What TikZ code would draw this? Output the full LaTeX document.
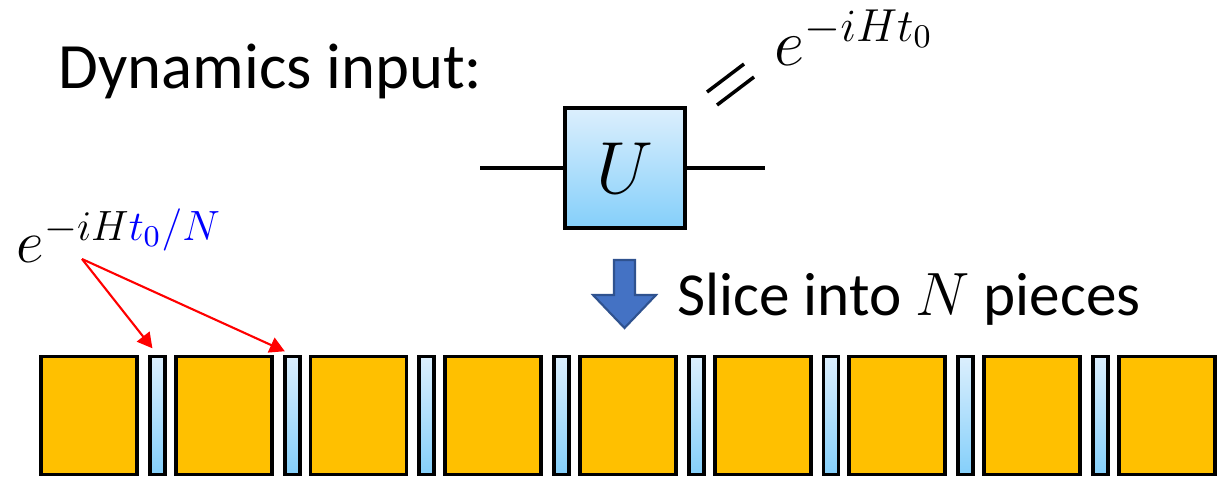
\RequirePackage{fix-cm}
\documentclass[tikz,border=0pt]{standalone}
\usepackage{fontspec}
\setmainfont{Carlito}
\usetikzlibrary{arrows.meta, positioning}
\definecolor{slGold}{HTML}{FFC000}
\definecolor{slBlueTop}{HTML}{DCEFFD}
\definecolor{slBlueBot}{HTML}{84CFFA}
\definecolor{slArrow}{HTML}{4472C4}
\definecolor{slArrowEdge}{HTML}{2F528F}

\begin{document}
\begin{tikzpicture}[
  big/.style={rectangle, draw=black, line width=1.1pt, fill=slGold, minimum width=0.96cm, minimum height=1.18cm, inner sep=0pt},
  slab/.style={rectangle, draw=black, line width=1.1pt, top color=slBlueTop, bottom color=slBlueBot, minimum width=0.15cm, minimum height=1.18cm, inner sep=0pt},
  gate/.style={rectangle, draw=black, line width=1.1pt, top color=slBlueTop, bottom color=slBlueBot, minimum size=1.2cm, inner sep=0pt, font=\fontsize{21}{21}\selectfont},
  txt/.style={inner sep=0pt, anchor=base west},
  wire/.style={line width=1pt},
  ptr/.style={-{Triangle[length=1.5mm, width=1.6mm]}, red, line width=0.6pt, shorten >=0.08cm},
  cutarrow/.style={fill=slArrow, draw=slArrowEdge, line width=0.6pt, line join=miter}]
  \useasboundingbox (0,0) rectangle (12.28,4.78);
  % title and gate
  \node[txt, font=\fontsize{18.4}{18.4}\selectfont] (dyn) at (0.58,3.90) {Dynamics input:};
  \node[gate] (U) at (6.25,3.10) {$U$};
  \coordinate (win) at (4.80,3.10);
  \coordinate (wout) at (7.65,3.10);
  \draw[wire] (win) -- (U);
  \draw[wire] (U) -- (wout);
  \draw[wire] (7.07,3.86) -- (7.44,4.14);
  \draw[wire] (7.17,3.73) -- (7.54,4.01);
  \node[txt, font=\fontsize{18.8}{18.8}\selectfont] (ulabel) at (7.74,4.13) {$e^{-iHt_0}$};
  % slicing
  \draw[cutarrow] (6.14,2.18) -- (6.35,2.18) -- (6.35,1.83) -- (6.56,1.83) -- (6.245,1.50)
    -- (5.93,1.83) -- (6.14,1.83) -- cycle;
  \node[txt, font=\fontsize{17.4}{17.4}\selectfont] (slicetxt) at (6.77,1.63) {Slice into $N$ pieces};
  % row of pieces
  \node[big] (b0) at (0.89,0.625) {};
  \foreach \k [count=\j from 1] in {0,...,7} {
    \node[slab, right=0.09cm of b\k] (s\k) {};
    \node[big, right=0.07cm of s\k] (b\j) {};
  }
  \node[txt, font=\fontsize{17.2}{17.2}\selectfont] (slabel) at (0.16,2.16) {$e^{-iH{\color{blue}t_0/N}}$};
  \coordinate (src) at (0.82,2.19);
  \draw[ptr] (src) -- (s0.north);
  \draw[ptr] (src) -- (s1.north);
\end{tikzpicture}
\end{document}
